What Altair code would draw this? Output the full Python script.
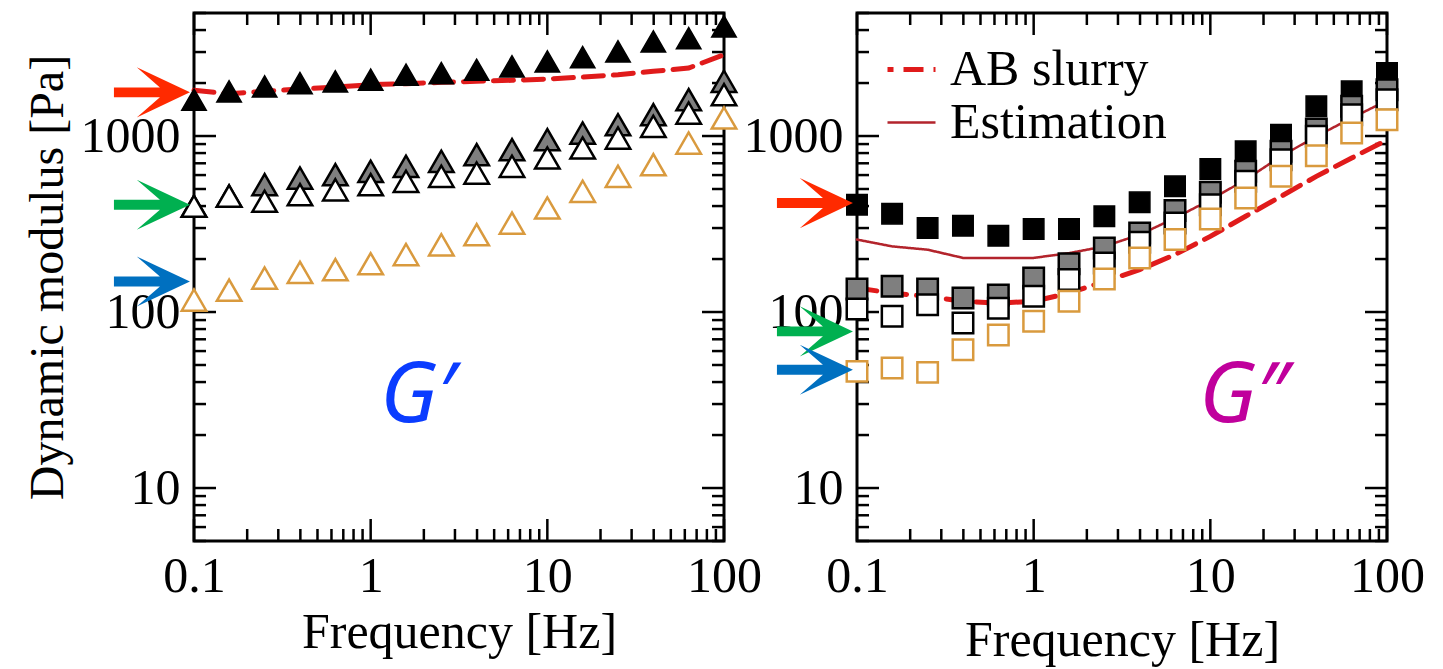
import altair as alt
import pandas as pd

# ---------------- data ----------------
freq = [0.1, 0.158, 0.251, 0.398, 0.631, 1.0, 1.585, 2.512, 3.981, 6.31,
        10.0, 15.85, 25.12, 39.81, 63.1, 100.0]

# G' panel (triangles)
gp_black = [1608, 1795, 1914, 2000, 2045, 2090, 2230, 2280, 2380, 2490,
            2655, 2810, 3030, 3450, 3600, 4200]
gp_gray = [399, 456, 529, 577, 603, 630, 673, 718, 783, 836,
           953, 1040, 1159, 1322, 1608, 2045]
gp_open = [399, 456, 426, 464, 495, 529, 553, 590, 616, 673,
           750, 855, 974, 1135, 1351, 1717]
gp_orange = [117, 133, 156, 168, 174, 188, 212, 241, 275, 320,
             390, 485, 590, 687, 912, 1266]
gp_slurry = [1818, 1739, 1795, 1849, 1898, 1957, 1982, 2019, 2046, 2073,
             2108, 2164, 2230, 2331, 2434, 2897]

# G'' panel (squares)
gpp_black = [407, 362, 300, 309, 271, 296, 296, 350, 420, 518,
             649, 819, 1017, 1475, 1795, 2280]
gpp_gray = [135, 140, 135, 120, 125, 156, 188, 231, 281, 378,
            479, 630, 819, 1096, 1475, 1833]
gpp_open = [104, 94.5, 110, 86.6, 105, 123, 153, 190, 249, 320,
            407, 553, 733, 996, 1321, 1608]
gpp_orange = [46, 48, 45.4, 61, 74, 88.5, 115, 154, 203, 258,
              338, 444, 590, 773, 1040, 1238]
gpp_slurry = [137, 128, 123, 115, 112.5, 115, 128, 149, 174, 212,
              269, 350, 454, 590, 750, 950]
gpp_estimation = [258, 236, 226, 203, 203, 203, 216, 236, 275, 342,
                  434, 565, 767, 996, 1266, 1590]

line_names = ["AB slurry", "Estimation"]

# arrows (left of each y axis)
arrow_colors = ["#FF2A00", "#00B050", "#0070C0"]
arrow_y_left = [1771, 407, 149]
arrow_y_right = [416, 77.6, 47]
arrow_x = 0.0578

# panel labels
label_left = ["G\u2032"]
label_right = ["G\u2033"]
label_left_pos = [1.85, 33]
label_right_pos = [15.5, 33]

# axis tick values
x_major = [0.1, 1, 10, 100]
x_minor = [k * d for d in (0.1, 1, 10) for k in range(2, 10)]
y_major = [10, 100, 1000]
y_minor = [5, 6, 7, 8, 9] + [k * 10 for k in range(2, 10)] + \
          [k * 100 for k in range(2, 10)] + [2000, 3000, 4000, 5000]

# ---------------- styling ----------------
W, H = 530, 528
SERIF = "Liberation Serif"
X_SCALE = alt.Scale(type="log", domain=[0.1, 100], nice=False)
Y_SCALE = alt.Scale(type="log", domain=[5, 5000], nice=False)
ARROW = "M-1,-0.13 L0.21,-0.13 L-0.4,-0.66 L1,0 L-0.4,0.66 L0.21,0.13 L-1,0.13 Z"
ORANGE = "#D99A3E"


def xenc(tp=8):
    return alt.X("f:Q", scale=X_SCALE,
                 axis=alt.Axis(values=x_major, format="~g", title="Frequency [Hz]",
                               ticks=False, domain=False, grid=False, labelFlush=False,
                               labelOverlap=False, labelPadding=10, titlePadding=tp))


def yenc(title):
    ax = alt.Axis(values=y_major, format="~g", ticks=False, domain=False, grid=False,
                  labelFlush=False, labelOverlap=False,
                  labelPadding=14, titlePadding=8, title=title if title else None)
    return alt.Y("G:Q", scale=Y_SCALE, axis=ax)


def series_df(vals):
    return pd.DataFrame({"f": freq, "G": vals})


def points(vals, shape, size, fill, stroke, sw, title, tp):
    return alt.Chart(series_df(vals)).mark_point(
        shape=shape, size=size, filled=True, fill=fill, stroke=stroke,
        strokeWidth=sw, opacity=1, fillOpacity=1
    ).encode(x=xenc(tp), y=yenc(title))


def tick_layers(title, tp):
    layers = []
    for vals, ln in ((x_major, 22), (x_minor, 12)):
        d = pd.DataFrame({"f": vals})
        base = alt.Chart(d).mark_rule(color="black", strokeWidth=2.5)
        layers.append(base.encode(x=xenc(tp), y=alt.value(H), y2=alt.value(H - ln)))
        layers.append(base.encode(x=xenc(tp), y=alt.value(0), y2=alt.value(ln)))
    for vals, ln in ((y_major, 22), (y_minor, 12)):
        d = pd.DataFrame({"G": vals})
        base = alt.Chart(d).mark_rule(color="black", strokeWidth=2.5)
        layers.append(base.encode(y=yenc(title), x=alt.value(0), x2=alt.value(ln)))
        layers.append(base.encode(y=yenc(title), x=alt.value(W), x2=alt.value(W - ln)))
    return layers


def arrows(ys, title, tp):
    out = []
    for yv, col in zip(ys, arrow_colors):
        d = pd.DataFrame({"f": [arrow_x], "G": [yv]})
        out.append(alt.Chart(d).mark_point(shape=ARROW, size=5776, filled=True, opacity=1,
                                           fill=col, strokeWidth=0).encode(
            x=xenc(tp), y=yenc(title)))
    return out


def label(text, pos, color, title, tp):
    d = pd.DataFrame({"f": [pos[0]], "G": [pos[1]], "t": text})
    return alt.Chart(d).mark_text(font="Noto Sans", fontStyle="italic", fontSize=84,
                                  color=color, align="center", baseline="middle").encode(
        x=xenc(tp), y=yenc(title), text="t:N")


# ---------------- left panel (G') ----------------
TL = "Dynamic modulus [Pa]"
TPL = 6
left_line = alt.Chart(series_df(gp_slurry)).mark_line(
    color="#E01B1B", strokeWidth=5, strokeDash=[20, 10], strokeCap="round"
).encode(x=xenc(TPL), y=yenc(TL))

left = alt.layer(
    *tick_layers(TL, TPL),
    left_line,
    points(gp_black, "triangle-up", 600, "black", "black", 1.5, TL, TPL),
    points(gp_gray, "triangle-up", 600, "#7F7F7F", "black", 2.5, TL, TPL),
    points(gp_open, "triangle-up", 600, "white", "black", 2.5, TL, TPL),
    points(gp_orange, "triangle-up", 600, "white", ORANGE, 2.5, TL, TPL),
    *arrows(arrow_y_left, TL, TPL),
    label(label_left, label_left_pos, "#0A3CFF", TL, TPL),
).properties(width=W, height=H)

# ---------------- right panel (G'') ----------------
TPR = 14
lines_df = pd.concat([
    pd.DataFrame({"f": freq, "G": gpp_slurry, "s": line_names[0]}),
    pd.DataFrame({"f": freq, "G": gpp_estimation, "s": line_names[1]}),
])


def legend():
    return alt.Legend(title=None, orient="none", legendX=28, legendY=30,
                      symbolType="stroke", symbolSize=2304,
                      labelFont=SERIF, labelFontSize=50, labelColor="black",
                      labelLimit=0, labelOffset=12, rowPadding=2, padding=0,
                      symbolDashOffset=14)


right_lines = alt.Chart(lines_df).mark_line(strokeCap="round").encode(
    x=xenc(TPR), y=yenc(None),
    color=alt.Color("s:N", scale=alt.Scale(domain=line_names, range=["#E01B1B", "#B3242C"]),
                    legend=legend()),
    strokeDash=alt.StrokeDash("s:N", scale=alt.Scale(domain=line_names, range=[[20, 10], [1, 0]]),
                              legend=legend()),
    strokeWidth=alt.StrokeWidth("s:N", scale=alt.Scale(domain=line_names, range=[5, 2.5]),
                                legend=legend()),
    detail="s:N",
)

right = alt.layer(
    *tick_layers(None, TPR),
    right_lines,
    points(gpp_black, "square", 420, "black", "black", 1.5, None, TPR),
    points(gpp_gray, "square", 420, "#7F7F7F", "black", 2.5, None, TPR),
    points(gpp_open, "square", 420, "white", "black", 2.5, None, TPR),
    points(gpp_orange, "square", 420, "white", ORANGE, 2.5, None, TPR),
    *arrows(arrow_y_right, None, TPR),
    label(label_right, label_right_pos, "#C0009C", None, TPR),
).properties(width=W, height=H)

chart = alt.hconcat(left, right, spacing=133, bounds="flush").resolve_legend(
    color="independent", strokeDash="independent", strokeWidth="independent"
).properties(
    padding={"left": 14, "top": 2, "right": 5, "bottom": 5}
).configure_view(stroke="black", strokeWidth=3).configure_axis(
    labelFont=SERIF, labelFontSize=50, labelColor="black",
    titleFont=SERIF, titleFontSize=50, titleFontWeight="normal", titleColor="black"
).configure_axisY(titleFontSize=48)

chart.save("out.html", embed_options={"renderer": "svg", "actions": False})
